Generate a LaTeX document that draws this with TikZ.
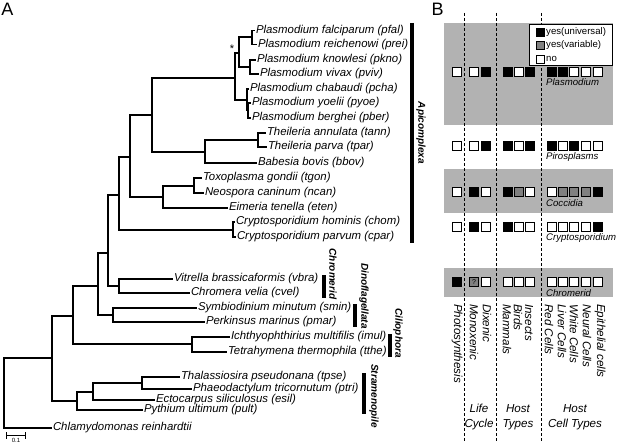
\documentclass[tikz,border=0pt]{standalone}
\usepackage{fontspec}
\setmainfont{Liberation Sans}

\colorlet{boxgray}{black!30}
\colorlet{sqw}{white}
\colorlet{sqb}{black}
\colorlet{sqg}{black!50}

% x positions of the trait columns in panel B
\def\colx{{457,474,486,508,519,530,552,563,574,586,598}}
\newcommand{\sqrow}[3]{%
  \foreach \code [count=\k from 0] in {#3} {
    \pgfmathsetmacro\xx{\colx[\k]}
    \node[sq, fill=sq\code] (#1-\k) at (\xx,#2) {};
  }}

\begin{document}
\begin{tikzpicture}[x=1pt, y=-1pt,
    branch/.style={line width=1.4pt},
    taxon/.style={anchor=west, inner sep=0.8pt, text height=8.2pt, text depth=2.3pt,
      font=\fontsize{11.4}{13}\selectfont\itshape},
    groupbar/.style={line width=4pt},
    grouplbl/.style={rotate=-90, inner sep=0pt, font=\fontsize{10}{12}\selectfont\bfseries\itshape},
    sq/.style={draw, line width=0.8pt, minimum size=9.5pt, inner sep=0pt},
    divider/.style={line width=0.7pt, dash pattern=on 3pt off 2pt},
    collabel/.style={rotate=-90, anchor=west, inner sep=0pt, font=\fontsize{11.6}{13}\selectfont\itshape},
    rowlabel/.style={anchor=west, inner sep=0pt, font=\fontsize{9.6}{11}\selectfont\itshape}]
  \useasboundingbox (0,0) rectangle (617,443);

  % panel letters
  \node[font=\fontsize{18}{18}\selectfont] (lblA) at (7.5,9.5) {A};
  \node[font=\fontsize{18}{18}\selectfont] (lblB) at (437.5,9) {B};

  % tree: internal nodes
  \foreach \nm/\xx/\yy in {root/4/393, sar/52/358, alv/73/316, str/77/401,
      myz/98/286, cil/192/344, apichr/108/253, per/113/315, api/119/195,
      chr/119/286, apiA/130/157, cry/233/230, aco/152/115, coc/163/197,
      pla/235/78, pir/205/152, the/258/140, tn/194/186, plaA/239/53,
      plaB/247/100, plaC/248/110, plaD/252/37, plaE/250/67,
      strA/93/392, strB/142/383}
    \coordinate (\nm) at (\xx,\yy);

  % tree: leaves
  \foreach \nm/\xx/\yy/\txt in {
      pfal/255/30.5/Plasmodium falciparum (pfal),
      prei/257/44.5/Plasmodium reichenowi (prei),
      pkno/256/60/Plasmodium knowlesi (pkno),
      pviv/259/74/Plasmodium vivax (pviv),
      pcha/249/89/Plasmodium chabaudi (pcha),
      pyoe/251/103/Plasmodium yoelii (pyoe),
      pber/251/118/Plasmodium berghei (pber),
      tann/266/133/Theileria annulata (tann),
      tpar/267/147/Theileria parva (tpar),
      bbov/257/163/Babesia bovis (bbov),
      tgon/202/178/Toxoplasma gondii (tgon),
      ncan/204/193/Neospora caninum (ncan),
      eten/228/208/Eimeria tenella (eten),
      chom/235/222/Cryptosporidium hominis (chom),
      cpar/236/237/Cryptosporidium parvum (cpar),
      vbra/173/279/Vitrella brassicaformis (vbra),
      cvel/190/293/Chromera velia (cvel),
      smin/197/308/Symbiodinium minutum (smin),
      pmar/205/322/Perkinsus marinus (pmar),
      imul/230/337/Ichthyophthirius multifilis (imul),
      tthe/227/352/Tetrahymena thermophila (tthe),
      tpse/180/377/Thalassiosira pseudonana (tpse),
      ptri/192/389/Phaeodactylum tricornutum (ptri),
      esil/155/400/Ectocarpus siliculosus (esil),
      pult/143/410/Pythium ultimum (pult),
      chlr/52/428/Chlamydomonas reinhardtii}
    \node[taxon] (\nm) at (\xx,\yy) {\txt};

  % tree: branches
  \foreach \p/\c in {root/sar, root/chlr.west, sar/alv, sar/str,
      alv/myz, alv/cil, cil/imul.west, cil/tthe.west,
      myz/apichr, myz/per, per/smin.west, per/pmar.west,
      apichr/api, apichr/chr, chr/vbra.west, chr/cvel.west,
      api/apiA, api/cry, cry/chom.west, cry/cpar.west,
      apiA/aco, apiA/coc, coc/tn, coc/eten.west, tn/tgon.west, tn/ncan.west,
      aco/pla, aco/pir, pir/the, pir/bbov.west, the/tann.west, the/tpar.west,
      pla/plaA, pla/plaB, plaA/plaD, plaA/plaE,
      plaD/pfal.west, plaD/prei.west, plaE/pkno.west, plaE/pviv.west,
      plaB/pcha.west, plaB/plaC, plaC/pyoe.west, plaC/pber.west,
      str/strA, str/pult.west, strA/strB, strA/esil.west,
      strB/tpse.west, strB/ptri.west}
    \draw[branch] (\p) |- (\c);

  \node[inner sep=0pt, font=\fontsize{11}{11}\selectfont] (star) at (232,49) {*};

  % scale bar
  \draw[line width=0.8pt, |-|] (6,435.5) -- (26,435.5);
  \node[inner sep=0pt, font=\fontsize{6}{6}\selectfont] (scl) at (16,440.5) {0.1};

  % clade bars
  \draw[groupbar] (412,23) -- (412,243);
  \node[grouplbl] (gApi) at (421,133) {Apicomplexa};
  \draw[groupbar] (324,275) -- (324,298);
  \node[grouplbl] (gChr) at (333,274) {Chromerid};
  \draw[groupbar] (355,304) -- (355,327);
  \node[grouplbl] (gDin) at (364,296) {Dinoflagellata};
  \draw[groupbar] (390,334) -- (390,357);
  \node[grouplbl] (gCil) at (398,333) {Ciliophora};
  \draw[groupbar] (364,373) -- (364,414);
  \node[grouplbl] (gStr) at (374,396) {Stramenopile};

  % panel B: shaded rows and column dividers
  \fill[boxgray] (444,23) rectangle (613,125);
  \fill[boxgray] (444,169) rectangle (613,213);
  \fill[boxgray] (444,268) rectangle (613,297);
  \foreach \xx in {464,496,541}
    \draw[divider] (\xx,13) -- (\xx,443);

  % legend
  \draw[line width=0.9pt, fill=white] (529,24) rectangle (612,65);
  \node[sq, minimum size=8pt, fill=sqb] (legB) at (540,32) {};
  \node[sq, minimum size=8pt, fill=sqg] (legG) at (540,45) {};
  \node[sq, minimum size=8pt, fill=sqw] (legW) at (540,59) {};
  \node[anchor=west, inner sep=0pt, font=\fontsize{9.6}{11}\selectfont] at (546,32) {yes(universal)};
  \node[anchor=west, inner sep=0pt, font=\fontsize{9.6}{11}\selectfont] at (546,45) {yes(variable)};
  \node[anchor=west, inner sep=0pt, font=\fontsize{9.6}{11}\selectfont] at (546,59) {no};

  % trait squares
  \sqrow{plas}{72}{w,w,b,b,w,b,b,b,w,w,w}
  \sqrow{piro}{146}{w,w,b,b,w,b,b,w,b,w,w}
  \sqrow{cocc}{192}{w,b,w,b,g,w,w,g,g,g,b}
  \sqrow{cryp}{227}{w,b,w,b,w,w,w,w,w,w,b}
  \sqrow{chro}{282}{b,g,w,w,w,w,w,w,w,w,w}
  \node[inner sep=0pt, font=\fontsize{7}{7}\selectfont] (qmark) at (chro-1) {?};

  \foreach \nm/\yy/\txt in {rPla/82/Plasmodium, rPir/157/Pirosplasms,
      rCoc/203/Coccidia, rCry/238/Cryptosporidium, rChr/293/Chromerid}
    \node[rowlabel] (\nm) at (546,\yy) {\txt};

  % column labels
  \foreach \xx/\txt [count=\k] in {457/Photosynthesis, 474/Monoxenic, 487/Dixenic,
      507/Mammals, 518/Birds, 529/Insects, 549/Red Cells, 562/Liver Cells,
      574/White Cells, 587/Neural Cells, 600/Epithelial cells}
    \node[collabel] (col\k) at (\xx,304) {\txt};

  \node[align=center, inner sep=0pt, font=\fontsize{11.6}{15.5}\selectfont\itshape] (gLife) at (479,417) {Life\\Cycle};
  \node[align=center, inner sep=0pt, font=\fontsize{11.6}{15.5}\selectfont\itshape] (gHost) at (518,417) {Host\\Types};
  \node[align=center, inner sep=0pt, font=\fontsize{11.6}{15.5}\selectfont\itshape] (gCell) at (575,417) {Host\\Cell Types};
\end{tikzpicture}
\end{document}
